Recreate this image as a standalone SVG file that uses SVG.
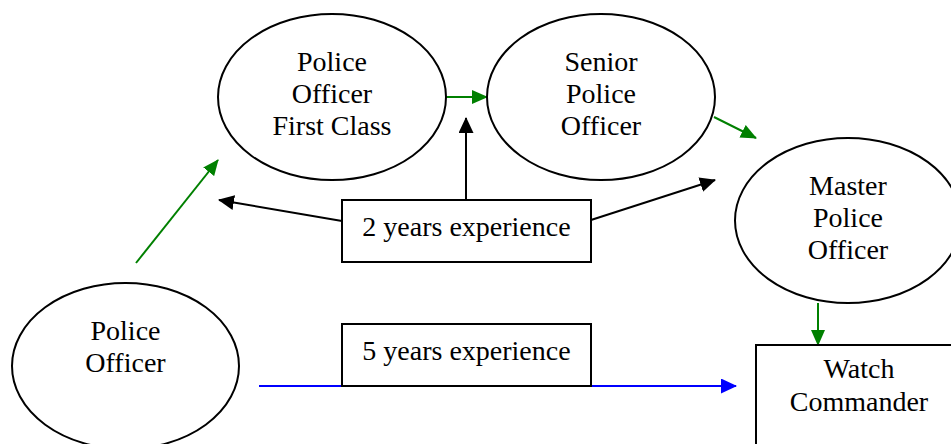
<svg xmlns="http://www.w3.org/2000/svg" width="951" height="444" viewBox="0 0 951 444">
<style>
.n{fill:#fff;stroke:#000;stroke-width:2}
.t{font-family:"Liberation Serif","Times New Roman",serif;font-size:28px;fill:#000;text-anchor:middle}
.g{stroke:#008000;stroke-width:2;fill:none}
.k{stroke:#000;stroke-width:2;fill:none}
.b{stroke:#0000ff;stroke-width:2;fill:none}
</style>
<defs>
<marker id="ag" markerUnits="userSpaceOnUse" markerWidth="16" markerHeight="14" refX="15" refY="7" orient="auto"><path d="M0,0 L16,7 L0,14 Z" fill="#008000"/></marker>
<marker id="ak" markerUnits="userSpaceOnUse" markerWidth="16" markerHeight="15" refX="15" refY="7.5" orient="auto"><path d="M0,0 L16,7.5 L0,15 Z" fill="#000"/></marker>
<marker id="ab" markerUnits="userSpaceOnUse" markerWidth="16" markerHeight="15" refX="15" refY="7.5" orient="auto"><path d="M0,0 L16,7.5 L0,15 Z" fill="#0000ff"/></marker>
</defs>
<rect width="951" height="444" fill="#fff"/>
<g id="connectors">
<line class="g" x1="136" y1="263" x2="218" y2="160" marker-end="url(#ag)"/>
<line class="g" x1="446" y1="97" x2="487" y2="97" marker-end="url(#ag)"/>
<line class="g" x1="714" y1="117" x2="756" y2="138" marker-end="url(#ag)"/>
<line class="g" x1="818" y1="303" x2="818" y2="345" marker-end="url(#ag)"/>
<line class="k" x1="466" y1="200" x2="466" y2="118" marker-end="url(#ak)"/>
<line class="k" x1="342" y1="221" x2="219" y2="200" marker-end="url(#ak)"/>
<line class="k" x1="591" y1="220" x2="715" y2="180" marker-end="url(#ak)"/>
<line class="b" x1="259" y1="386" x2="736" y2="386" marker-end="url(#ab)"/>
</g>
<g id="police-officer-first-class">
<ellipse class="n" cx="332" cy="97" rx="114" ry="83"/>
<text class="t" x="332" y="71">Police</text>
<text class="t" x="332" y="103">Officer</text>
<text class="t" x="332" y="135">First Class</text>
</g>
<g id="senior-police-officer">
<ellipse class="n" cx="601" cy="97" rx="114" ry="83"/>
<text class="t" x="601" y="71">Senior</text>
<text class="t" x="601" y="103">Police</text>
<text class="t" x="601" y="135">Officer</text>
</g>
<g id="master-police-officer">
<ellipse class="n" cx="848" cy="220.5" rx="113" ry="82.5"/>
<text class="t" x="848" y="195">Master</text>
<text class="t" x="848" y="227">Police</text>
<text class="t" x="848" y="259">Officer</text>
</g>
<g id="police-officer">
<ellipse class="n" cx="125.5" cy="366" rx="113.5" ry="83"/>
<text class="t" x="125.5" y="340">Police</text>
<text class="t" x="125.5" y="372">Officer</text>
</g>
<g id="two-years">
<rect class="n" x="342" y="200" width="249" height="62"/>
<text class="t" x="466.5" y="236">2 years experience</text>
</g>
<g id="five-years">
<rect class="n" x="342" y="324" width="249" height="62"/>
<text class="t" x="466.5" y="360">5 years experience</text>
</g>
<g id="watch-commander">
<rect class="n" x="756" y="345" width="210" height="120"/>
<text class="t" x="859" y="378">Watch</text>
<text class="t" x="859" y="411">Commander</text>
</g>
</svg>
